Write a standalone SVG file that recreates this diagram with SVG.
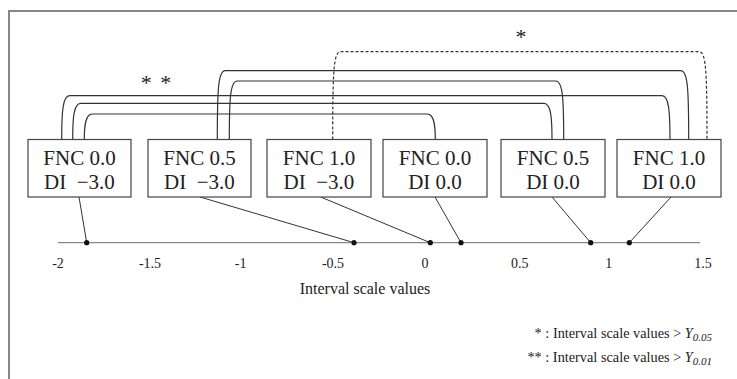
<svg xmlns="http://www.w3.org/2000/svg" width="737" height="379" viewBox="0 0 737 379">
<style>
.frame{fill:none;stroke:#8a8688;stroke-width:2}
.box rect{fill:#fff;stroke:#444;stroke-width:1.2}
.box text{font-family:"Liberation Serif",serif;font-size:21px;fill:#222;text-anchor:middle}
.br{fill:none;stroke:#333;stroke-width:1.2}
.dash{stroke-dasharray:3 2}
.lead{stroke:#333;stroke-width:1;fill:none}
.axis{stroke:#888;stroke-width:1.2}
.tick{font-family:"Liberation Serif",serif;font-size:14px;fill:#222;text-anchor:middle}
.lbl{font-family:"Liberation Serif",serif;fill:#222}
.dot{fill:#111}
</style>
<rect width="737" height="379" fill="#fff"/>
<path class="frame" d="M9,379 V11 H737"/>
<g id="connectors">
<path class="br dash" d="M332.7,139.5 C332.7,70 333.7,51.7 340.7,51.7 H699 C706,51.7 707,70 707,139.5"/>
<path class="br" d="M217.3,139.5 C217.3,88 218.3,70.7 225.3,70.7 H680.7 C687.7,70.7 688.7,88 688.7,139.5"/>
<path class="br" d="M229.3,139.5 C229.3,98 230.3,81 237.3,81 H555.7 C562.7,81 563.7,98 563.7,139.5"/>
<path class="br" d="M61.7,139.5 C61.7,112 62.7,95.7 69.7,95.7 H662 C669,95.7 670,112 670,139.5"/>
<path class="br" d="M72.7,139.5 C72.7,118 73.7,103.3 80.7,103.3 H544 C551,103.3 552,118 552,139.5"/>
<path class="br" d="M84.3,139.5 C84.3,126 85.3,114 92.3,114 H427.3 C434.3,114 435.3,126 435.3,139.5"/>
<line class="lead" x1="79" y1="197" x2="86.7" y2="242.7"/>
<line class="lead" x1="200" y1="197" x2="354" y2="242.7"/>
<line class="lead" x1="320.7" y1="197" x2="430.3" y2="242.7"/>
<line class="lead" x1="435" y1="197" x2="461" y2="242.7"/>
<line class="lead" x1="552" y1="197" x2="590.7" y2="242.7"/>
<line class="lead" x1="671" y1="197" x2="629.3" y2="242.7"/>
</g>
<g id="node1" class="box"><rect x="28" y="139.5" width="103" height="57.5"/><text x="79.5" y="165">FNC 0.0</text><text x="79.5" y="189">DI&#8194;&#8722;3.0</text></g>
<g id="node2" class="box"><rect x="148" y="139.5" width="103" height="57.5"/><text x="199.5" y="165">FNC 0.5</text><text x="199.5" y="189">DI&#8194;&#8722;3.0</text></g>
<g id="node3" class="box"><rect x="267" y="139.5" width="104" height="57.5"/><text x="319" y="165">FNC 1.0</text><text x="319" y="189">DI&#8194;&#8722;3.0</text></g>
<g id="node4" class="box"><rect x="383" y="139.5" width="104" height="57.5"/><text x="435" y="165">FNC 0.0</text><text x="435" y="189">DI 0.0</text></g>
<g id="node5" class="box"><rect x="501" y="139.5" width="104" height="57.5"/><text x="553" y="165">FNC 0.5</text><text x="553" y="189">DI 0.0</text></g>
<g id="node6" class="box"><rect x="617" y="139.5" width="104" height="57.5"/><text x="669" y="165">FNC 1.0</text><text x="669" y="189">DI 0.0</text></g>
<g id="axis">
<line class="axis" x1="58" y1="242.7" x2="700" y2="242.7"/>
<circle class="dot" cx="86.7" cy="242.7" r="2.6"/>
<circle class="dot" cx="354" cy="242.7" r="2.6"/>
<circle class="dot" cx="430.3" cy="242.7" r="2.6"/>
<circle class="dot" cx="461" cy="242.7" r="2.6"/>
<circle class="dot" cx="590.7" cy="242.7" r="2.6"/>
<circle class="dot" cx="629.3" cy="242.7" r="2.6"/>
<text class="tick" x="58" y="268">-2</text>
<text class="tick" x="150" y="268">-1.5</text>
<text class="tick" x="240.7" y="268">-1</text>
<text class="tick" x="333" y="268">-0.5</text>
<text class="tick" x="425" y="268">0</text>
<text class="tick" x="519.7" y="268">0.5</text>
<text class="tick" x="608.7" y="268">1</text>
<text class="tick" x="703" y="268">1.5</text>
<text class="lbl" x="365" y="294" font-size="16" text-anchor="middle">Interval scale values</text>
</g>
<text class="lbl" x="156" y="90" font-size="22" text-anchor="middle" word-spacing="3">* *</text>
<text class="lbl" x="521" y="44" font-size="22" text-anchor="middle">*</text>
<text class="lbl" x="712" y="338" font-size="14.3" text-anchor="end">* : Interval scale values &gt; <tspan font-style="italic">Y</tspan><tspan font-style="italic" font-size="11" dy="3">0.05</tspan></text>
<text class="lbl" x="712" y="362" font-size="14.3" text-anchor="end">** : Interval scale values &gt; <tspan font-style="italic">Y</tspan><tspan font-style="italic" font-size="11" dy="3">0.01</tspan></text>
</svg>
